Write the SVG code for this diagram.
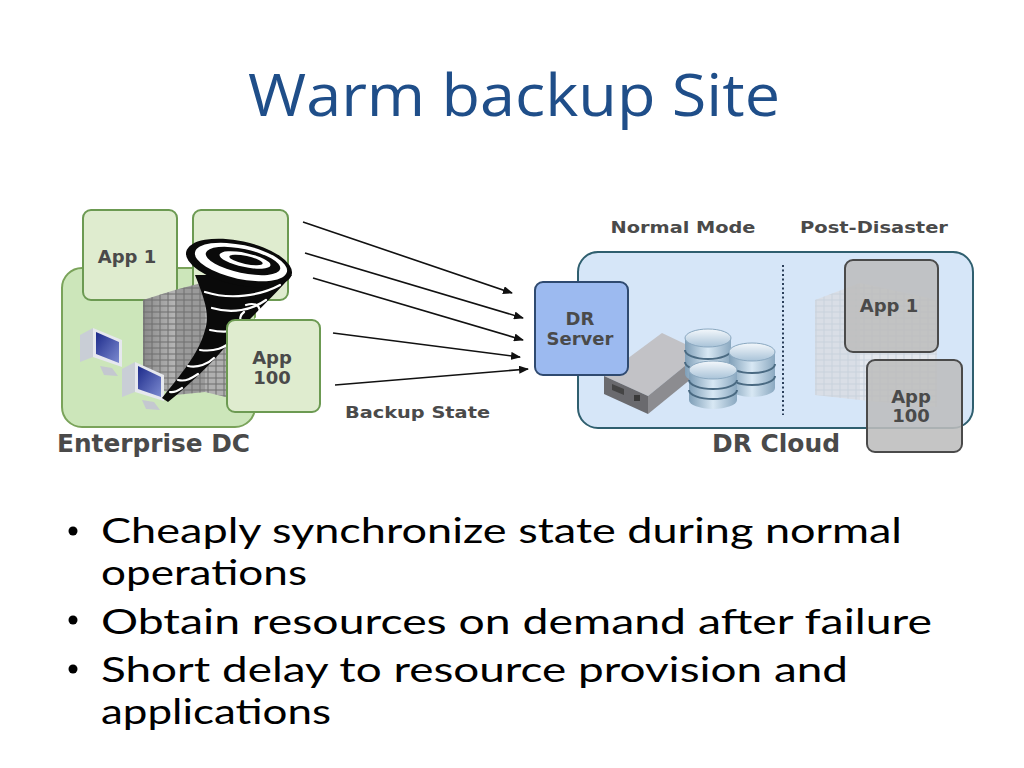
<svg xmlns="http://www.w3.org/2000/svg" width="1024" height="768" viewBox="0 0 1024 768">
<defs>
<style>
.lbl{font-family:"DejaVu Sans",Verdana,sans-serif;font-weight:bold;fill:#4a4a4a}
.bul{font-family:Lato,"Liberation Sans",sans-serif;font-size:34px;fill:#000}
.conn{stroke:#111;stroke-width:1.6;fill:none;marker-end:url(#ah)}
.gbox{fill:#dfeccf;stroke:#6c9a52;stroke-width:2}
.graybox{fill:#bdbdbd;fill-opacity:0.88;stroke:#4a4a4a;stroke-width:2}
.swirl{fill:none;stroke:#fff;stroke-width:2.2;stroke-linecap:round}
</style>
<marker id="ah" markerWidth="10" markerHeight="8" refX="9" refY="4" orient="auto" markerUnits="userSpaceOnUse">
<path d="M0,0 L10,4 L0,8 Z" fill="#111"/>
</marker>
<linearGradient id="rack" x1="0" y1="0" x2="1" y2="0">
<stop offset="0" stop-color="#8a8a8a"/><stop offset="1" stop-color="#b5b5b5"/>
</linearGradient>
<linearGradient id="screen" x1="0" y1="0" x2="1" y2="1">
<stop offset="0" stop-color="#1c2a8a"/><stop offset="1" stop-color="#7c8ad0"/>
</linearGradient>
<linearGradient id="disk" x1="0" y1="0" x2="1" y2="0">
<stop offset="0" stop-color="#7f9fb8"/><stop offset="0.5" stop-color="#d8e8f4"/><stop offset="1" stop-color="#8aa8c0"/>
</linearGradient>
<linearGradient id="disktop" x1="0" y1="0" x2="0" y2="1">
<stop offset="0" stop-color="#f4f8fc"/><stop offset="1" stop-color="#a9c3d8"/>
</linearGradient>
<pattern id="grid" width="8" height="6" patternUnits="userSpaceOnUse">
<rect width="8" height="6" fill="none" stroke="#6e6e6e" stroke-width="1"/>
</pattern>
<pattern id="gridl" width="8" height="6" patternUnits="userSpaceOnUse">
<rect width="8" height="6" fill="none" stroke="#c9d2dc" stroke-width="1"/>
</pattern>
</defs>
<rect width="1024" height="768" fill="#fff"/>

<g id="title">
<text x="514" y="116" text-anchor="middle" font-family="Open Sans, Liberation Sans, sans-serif" font-size="58" fill="#1f4e89" textLength="532" lengthAdjust="spacingAndGlyphs">Warm backup Site</text>
</g>

<g id="enterprise-dc">
<rect x="62" y="268" width="193" height="159" rx="20" fill="#cce6ba" stroke="#7aa35a" stroke-width="2"/>
<text class="lbl" x="57" y="452" font-size="25" textLength="193" lengthAdjust="spacingAndGlyphs">Enterprise DC</text>
</g>

<g id="app1-left">
<rect class="gbox" x="83" y="210" width="94" height="90" rx="8"/>
<text class="lbl" x="127" y="263" font-size="18" text-anchor="middle">App 1</text>
</g>
<g id="app2-left">
<rect class="gbox" x="193" y="210" width="95" height="90" rx="8"/>
</g>

<g id="server-rack">
<polygon points="143,300 175,290 175,395 143,383" fill="url(#rack)"/>
<polygon points="143,300 175,290 175,395 143,383" fill="url(#grid)"/>
<polygon points="175,290 205,282 205,392 175,395" fill="#9a9a9a"/>
<polygon points="175,290 205,282 205,392 175,395" fill="url(#grid)"/>
<polygon points="205,282 230,290 230,398 205,392" fill="#b0b0b0"/>
<polygon points="205,282 230,290 230,398 205,392" fill="url(#grid)"/>
</g>

<g id="monitors">
<polygon points="80,335 93,328 93,357 80,362" fill="#c9ced6"/>
<polygon points="93,328 122,340 122,367 93,357" fill="#e6e8ee"/>
<polygon points="96,332 119,342 119,363 96,354" fill="url(#screen)"/>
<polygon points="100,366 112,368 118,376 104,375" fill="#c4c8d0"/>
<polygon points="122,369 135,362 135,392 122,397" fill="#c9ced6"/>
<polygon points="135,362 164,375 164,401 135,392" fill="#e6e8ee"/>
<polygon points="138,366 161,377 161,397 138,389" fill="url(#screen)"/>
<polygon points="142,400 154,402 160,410 146,409" fill="#c4c8d0"/>
</g>

<g id="tornado">
<path d="M195,275 C205,300 210,315 205,330 C200,350 185,370 162,398 L168,402 C195,380 220,355 235,335 C250,318 270,300 292,275 Z" fill="#0a0a0a"/>
<ellipse cx="239" cy="263" rx="54" ry="22" transform="rotate(12 239 263)" fill="#0a0a0a"/>
<ellipse cx="241" cy="262" rx="47" ry="17" transform="rotate(12 241 262)" fill="#fff"/>
<ellipse cx="243" cy="261" rx="38" ry="12" transform="rotate(12 243 261)" fill="#0a0a0a"/>
<ellipse cx="245" cy="260" rx="26" ry="7" transform="rotate(12 245 260)" fill="#fff"/>
<ellipse cx="246" cy="260" rx="17" ry="4" transform="rotate(12 246 260)" fill="#0a0a0a"/>
<path class="swirl" d="M205,292 C230,300 260,296 280,285"/>
<path class="swirl" d="M212,308 C232,314 252,310 266,300"/>
<path class="swirl" d="M246,305 C262,300 264,315 252,322 C242,328 236,318 244,312"/>
<path class="swirl" d="M210,330 C228,334 244,330 252,322"/>
<path class="swirl" d="M200,350 C214,352 226,348 232,340"/>
<path class="swirl" d="M188,366 C198,368 208,364 214,358"/>
<path class="swirl" d="M178,380 C186,382 192,378 198,374"/>
<path class="swirl" d="M170,392 C175,393 179,390 182,388"/>
</g>

<g id="app100-left">
<rect class="gbox" x="227" y="320" width="93" height="92" rx="8"/>
<text class="lbl" x="272" y="364" font-size="18" text-anchor="middle">App</text>
<text class="lbl" x="272" y="384" font-size="18" text-anchor="middle">100</text>
</g>

<g id="connectors">
<line class="conn" x1="303" y1="222" x2="512" y2="293"/>
<line class="conn" x1="305" y1="253" x2="523" y2="318"/>
<line class="conn" x1="313" y1="278" x2="523" y2="340"/>
<line class="conn" x1="333" y1="333" x2="520" y2="357"/>
<line class="conn" x1="335" y1="385" x2="528" y2="369"/>
</g>

<g id="backup-state">
<text class="lbl" x="345" y="418" font-size="16.5" textLength="145" lengthAdjust="spacingAndGlyphs">Backup State</text>
</g>

<g id="dr-cloud">
<rect x="578" y="252" width="395" height="176" rx="20" fill="#d6e6f8" stroke="#2f5f6f" stroke-width="2"/>
<line x1="783" y1="265" x2="783" y2="415" stroke="#2a3f5a" stroke-width="2" stroke-dasharray="2,2.5"/>
<text class="lbl" x="776" y="452" font-size="24" text-anchor="middle" textLength="128" lengthAdjust="spacingAndGlyphs">DR Cloud</text>
<text class="lbl" x="683" y="233" font-size="16.5" text-anchor="middle" textLength="145" lengthAdjust="spacingAndGlyphs">Normal Mode</text>
<text class="lbl" x="874" y="233" font-size="16.5" text-anchor="middle" textLength="148" lengthAdjust="spacingAndGlyphs">Post-Disaster</text>
</g>

<g id="storage-server">
<polygon points="604,376 662,333 702,352 648,396" fill="#c2c2c6"/>
<polygon points="604,376 648,396 648,414 604,394" fill="#6a6a6e"/>
<polygon points="648,396 702,352 702,370 648,414" fill="#8c8c90"/>
<polygon points="612,384 624,389 624,395 612,390" fill="#444"/>
<rect x="634" y="395" width="6" height="6" fill="#3a3a3a"/>
</g>

<g id="disks">
<g transform="translate(708,338)">
<rect x="-23" y="0" width="46" height="36" fill="url(#disk)"/>
<ellipse cx="0" cy="36" rx="23" ry="9" fill="url(#disk)"/>
<path d="M-23,12 A23,9 0 0 0 23,12 M-23,24 A23,9 0 0 0 23,24" stroke="#4a6a82" stroke-width="2" fill="none"/>
<ellipse cx="0" cy="0" rx="23" ry="9" fill="url(#disktop)" stroke="#8aa8c0" stroke-width="1"/>
</g>
<g transform="translate(752,352)">
<rect x="-23" y="0" width="46" height="36" fill="url(#disk)"/>
<ellipse cx="0" cy="36" rx="23" ry="9" fill="url(#disk)"/>
<path d="M-23,12 A23,9 0 0 0 23,12 M-23,24 A23,9 0 0 0 23,24" stroke="#4a6a82" stroke-width="2" fill="none"/>
<ellipse cx="0" cy="0" rx="23" ry="9" fill="url(#disktop)" stroke="#8aa8c0" stroke-width="1"/>
</g>
<g transform="translate(713,370)">
<rect x="-24" y="0" width="48" height="30" fill="url(#disk)"/>
<ellipse cx="0" cy="30" rx="24" ry="9" fill="url(#disk)"/>
<path d="M-24,10 A24,9 0 0 0 24,10 M-24,20 A24,9 0 0 0 24,20" stroke="#4a6a82" stroke-width="2" fill="none"/>
<ellipse cx="0" cy="0" rx="24" ry="9" fill="url(#disktop)" stroke="#8aa8c0" stroke-width="1"/>
</g>
</g>

<g id="dr-server">
<rect x="535" y="282" width="93" height="93" rx="8" fill="#9cbaf0" stroke="#2f4a70" stroke-width="2"/>
<text class="lbl" x="580" y="325" font-size="18" text-anchor="middle">DR</text>
<text class="lbl" x="580" y="345" font-size="18" text-anchor="middle">Server</text>
</g>

<g id="faded-rack">
<polygon points="815,300 860,283 860,400 815,395" fill="#d9dee6"/>
<polygon points="815,300 860,283 860,400 815,395" fill="url(#gridl)"/>
<polygon points="860,283 937,300 937,407 860,400" fill="#e4e8ee"/>
<polygon points="860,283 937,300 937,407 860,400" fill="url(#gridl)"/>
</g>

<g id="app1-right">
<rect class="graybox" x="845" y="260" width="93" height="92" rx="8"/>
<text class="lbl" x="889" y="312" font-size="18" text-anchor="middle">App 1</text>
</g>
<g id="app100-right">
<rect class="graybox" x="867" y="360" width="95" height="92" rx="8"/>
<text class="lbl" x="911" y="403" font-size="18" text-anchor="middle">App</text>
<text class="lbl" x="911" y="422" font-size="18" text-anchor="middle">100</text>
</g>

<g id="bullets">
<circle cx="73" cy="531" r="4.5" fill="#000"/>
<circle cx="73" cy="620" r="4.5" fill="#000"/>
<circle cx="73" cy="669" r="4.5" fill="#000"/>
<text class="bul" x="101" y="543" textLength="801" lengthAdjust="spacingAndGlyphs">Cheaply synchronize state during normal</text>
<text class="bul" x="101" y="585" textLength="206" lengthAdjust="spacingAndGlyphs">operations</text>
<text class="bul" x="101" y="634" textLength="831" lengthAdjust="spacingAndGlyphs">Obtain resources on demand after failure</text>
<text class="bul" x="101" y="682" textLength="747" lengthAdjust="spacingAndGlyphs">Short delay to resource provision and</text>
<text class="bul" x="101" y="724" textLength="230" lengthAdjust="spacingAndGlyphs">applications</text>
</g>
</svg>
